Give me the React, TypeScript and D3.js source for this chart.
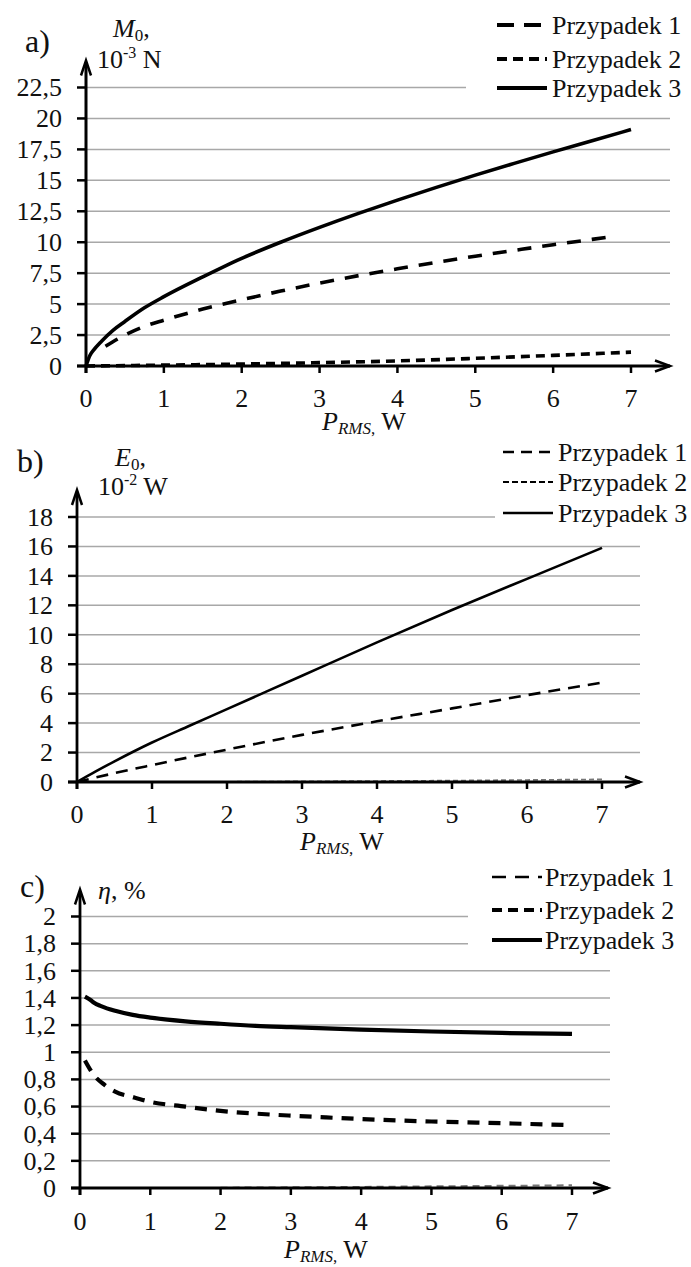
import React from "react";
import * as d3 from "d3";

// ---- Panel a: starting torque M0, 10^-3 N ----
const aCase1P = [0.25, 0.5, 0.75, 1, 1.5, 2, 2.5, 3, 3.5, 4, 4.5, 5, 5.5, 6, 6.5, 6.8];
const aCase1V = [1.6, 2.5, 3.2, 3.7, 4.6, 5.35, 6.05, 6.7, 7.3, 7.85, 8.37, 8.87, 9.34, 9.8, 10.23, 10.5];
const aCase2P = [0, 1, 2, 3, 4, 5, 6, 7];
const aCase2V = [0, 0.07, 0.16, 0.27, 0.41, 0.62, 0.86, 1.12];
const aCase3P = [0, 0.05, 0.1, 0.2, 0.35, 0.5, 0.75, 1, 1.5, 2, 2.5, 3, 3.5, 4, 4.5, 5, 5.5, 6, 6.5, 7];
const aCase3V = [0, 0.85, 1.3, 2.0, 2.9, 3.6, 4.7, 5.6, 7.2, 8.7, 10.0, 11.2, 12.33, 13.4, 14.43, 15.42, 16.37, 17.3, 18.2, 19.1];
const aTicks = [0, 2.5, 5, 7.5, 10, 12.5, 15, 17.5, 20, 22.5];

// ---- Panel b: energy E0, 10^-2 W ----
const bCase1P = [0, 0.5, 1, 2, 3, 4, 5, 6, 7];
const bCase1V = [0, 0.6, 1.15, 2.2, 3.2, 4.12, 5.0, 5.9, 6.75];
const bCase2P = [0, 1, 2, 3, 4, 5, 6, 7];
const bCase2V = [0, 0.005, 0.02, 0.045, 0.07, 0.1, 0.14, 0.18];
const bCase3P = [0, 0.25, 0.5, 1, 1.5, 2, 3, 4, 5, 6, 7];
const bCase3V = [0, 0.72, 1.4, 2.68, 3.82, 4.95, 7.22, 9.48, 11.68, 13.8, 15.9];
const bTicks = [0, 2, 4, 6, 8, 10, 12, 14, 16, 18];

// ---- Panel c: efficiency eta, % ----
const cCase1P = [2, 3, 4, 5, 6, 7];
const cCase1V = [0.002, 0.005, 0.008, 0.012, 0.016, 0.02];
const cCase2P = [0.07, 0.2, 0.35, 0.5, 0.75, 1, 1.5, 2, 2.5, 3, 3.5, 4, 5, 6, 7];
const cCase2V = [0.94, 0.83, 0.76, 0.71, 0.67, 0.635, 0.6, 0.568, 0.548, 0.533, 0.52, 0.508, 0.49, 0.477, 0.463];
const cCase3P = [0.07, 0.15, 0.2, 0.3, 0.5, 0.75, 1, 1.5, 2, 2.5, 3, 4, 5, 6, 7];
const cCase3V = [1.41, 1.385, 1.365, 1.34, 1.305, 1.275, 1.255, 1.228, 1.21, 1.195, 1.185, 1.167, 1.153, 1.142, 1.135];
const cTicks = [0, 0.2, 0.4, 0.6, 0.8, 1, 1.2, 1.4, 1.6, 1.8, 2];

const xTicks = [0, 1, 2, 3, 4, 5, 6, 7];
const legendNames = ["Przypadek 1", "Przypadek 2", "Przypadek 3"];

const FONT = '"Liberation Serif", "DejaVu Serif", serif';
const fmt = (v: number) => String(+v.toFixed(2)).replace(".", ",");

type Series = { p: number[]; v: number[]; width: number; dash?: string; color?: string };
type LegendItem = { width: number; dash?: string; color?: string };

type PanelCfg = {
  label: string;
  labelX: number;
  labelY: number;
  xRange: [number, number];
  yDomain: [number, number];
  yRange: [number, number];
  yTicks: number[];
  xEnd: number;
  gridEnd: number;
  shortGrid: number[];
  shortGridEnd: number;
  axisWidth: number;
  series: Series[];
  legend: LegendItem[];
  legendX: [number, number];
  legendTextX: number;
  legendY: number[];
  yTitle: React.ReactNode;
  xLabelDy: number;
  xTitleX: number;
  xTitleDy: number;
};

function Panel({ cfg }: { cfg: PanelCfg }) {
  const x = d3.scaleLinear().domain([0, 7]).range(cfg.xRange);
  const y = d3.scaleLinear().domain(cfg.yDomain).range(cfg.yRange);
  const x0 = x(0);
  const y0 = y(0);
  const yTip = y(cfg.yDomain[1]) - 27;
  const line = d3
    .line<[number, number]>()
    .x((d) => x(d[0]))
    .y((d) => y(d[1]))
    .curve(d3.curveMonotoneX);

  return (
    <g style={{ fontFamily: FONT }} fill="#111">
      {/* horizontal grid */}
      {cfg.yTicks.slice(1).map((t) => (
        <line
          key={"g" + t}
          x1={x0}
          x2={cfg.shortGrid.includes(t) ? cfg.shortGridEnd : cfg.gridEnd}
          y1={y(t)}
          y2={y(t)}
          stroke="#a8a8a8"
          strokeWidth={1.5}
        />
      ))}

      {/* curves */}
      {cfg.series.map((s, i) => (
        <path
          key={"s" + i}
          d={line(s.p.map((p, j) => [p, s.v[j]] as [number, number])) || ""}
          fill="none"
          stroke={s.color || "#000"}
          strokeWidth={s.width}
          strokeDasharray={s.dash}
        />
      ))}

      {/* axes */}
      <line x1={x0 - 9} x2={cfg.xEnd} y1={y0} y2={y0} stroke="#000" strokeWidth={cfg.axisWidth} />
      <line x1={x0} x2={x0} y1={y0 + 7} y2={yTip + 2} stroke="#000" strokeWidth={cfg.axisWidth} />
      <path
        d={`M${cfg.xEnd - 15},${y0 - 5.5} L${cfg.xEnd},${y0} L${cfg.xEnd - 15},${y0 + 5.5}`}
        fill="none"
        stroke="#000"
        strokeWidth={2.5}
      />
      <path
        d={`M${x0 - 5},${yTip + 15} L${x0},${yTip} L${x0 + 5},${yTip + 15}`}
        fill="none"
        stroke="#000"
        strokeWidth={2.5}
      />

      {/* y ticks */}
      {cfg.yTicks.map((t) => (
        <g key={"yt" + t}>
          <line x1={x0 - 9} x2={x0} y1={y(t)} y2={y(t)} stroke="#000" strokeWidth={2.5} />
          <text x={x0 - 24} y={y(t)} dy="0.34em" textAnchor="end" fontSize={26}>
            {fmt(t)}
          </text>
        </g>
      ))}

      {/* x ticks */}
      {xTicks.map((t) => (
        <g key={"xt" + t}>
          <line x1={x(t)} x2={x(t)} y1={y0} y2={y0 + 7} stroke="#000" strokeWidth={2.5} />
          <text x={x(t)} y={y0 + cfg.xLabelDy} textAnchor="middle" fontSize={26}>
            {t}
          </text>
        </g>
      ))}

      {/* x axis title */}
      <text x={cfg.xTitleX} y={y0 + cfg.xTitleDy} fontSize={26}>
        <tspan fontStyle="italic">P</tspan>
        <tspan fontStyle="italic" fontSize={17} dy={4}>
          RMS
        </tspan>
        <tspan fontSize={17}>,</tspan>
        <tspan dy={-4}> W</tspan>
      </text>

      {/* y axis title */}
      {cfg.yTitle}

      {/* panel letter */}
      <text x={cfg.labelX} y={cfg.labelY} fontSize={32}>
        {cfg.label}
      </text>

      {/* legend */}
      {cfg.legend.map((l, i) => (
        <g key={"l" + i}>
          <line
            x1={cfg.legendX[0]}
            x2={cfg.legendX[1]}
            y1={cfg.legendY[i]}
            y2={cfg.legendY[i]}
            stroke={l.color || "#000"}
            strokeWidth={l.width}
            strokeDasharray={l.dash}
          />
          <text x={cfg.legendTextX} y={cfg.legendY[i] + 9} fontSize={26}>
            {legendNames[i]}
          </text>
        </g>
      ))}
    </g>
  );
}

const panels: PanelCfg[] = [
  {
    label: "a)",
    labelX: 25,
    labelY: 52,
    xRange: [86, 631],
    yDomain: [0, 22.5],
    yRange: [366, 87.5],
    yTicks: aTicks,
    xEnd: 670,
    gridEnd: 670,
    shortGrid: [22.5],
    shortGridEnd: 466,
    axisWidth: 3,
    series: [
      { p: aCase1P, v: aCase1V, width: 3.6, dash: "14 11" },
      { p: aCase2P, v: aCase2V, width: 3.6, dash: "9 6" },
      { p: aCase3P, v: aCase3V, width: 3.6 },
    ],
    legend: [
      { width: 4, dash: "17 10" },
      { width: 4, dash: "10 6" },
      { width: 4 },
    ],
    legendX: [497, 547],
    legendTextX: 552,
    legendY: [25, 59, 88],
    yTitle: (
      <g fontSize={26}>
        <text x={113} y={37}>
          <tspan fontStyle="italic">M</tspan>
          <tspan fontSize={17} dy={4}>0</tspan>
          <tspan dy={-4}>,</tspan>
        </text>
        <text x={97} y={68}>
          10
          <tspan fontSize={16} dy={-10}>-3</tspan>
          <tspan dy={10}> N</tspan>
        </text>
      </g>
    ),
    xLabelDy: 41,
    xTitleX: 322,
    xTitleDy: 64,
  },
  {
    label: "b)",
    labelX: 17,
    labelY: 472,
    xRange: [77, 602],
    yDomain: [0, 18],
    yRange: [782, 517],
    yTicks: bTicks,
    xEnd: 640,
    gridEnd: 640,
    shortGrid: [18],
    shortGridEnd: 495,
    axisWidth: 2.8,
    series: [
      { p: bCase1P, v: bCase1V, width: 2.6, dash: "12 8" },
      { p: bCase2P, v: bCase2V, width: 1.6, dash: "5 3", color: "#777" },
      { p: bCase3P, v: bCase3V, width: 2.6 },
    ],
    legend: [
      { width: 2.5, dash: "11 7" },
      { width: 2, dash: "6 3" },
      { width: 2.5 },
    ],
    legendX: [503, 553],
    legendTextX: 558,
    legendY: [452, 482, 513],
    yTitle: (
      <g fontSize={26}>
        <text x={115} y={466}>
          <tspan fontStyle="italic">E</tspan>
          <tspan fontSize={17} dy={4}>0</tspan>
          <tspan dy={-4}>,</tspan>
        </text>
        <text x={98} y={495}>
          10
          <tspan fontSize={16} dy={-10}>-2</tspan>
          <tspan dy={10}> W</tspan>
        </text>
      </g>
    ),
    xLabelDy: 41,
    xTitleX: 300,
    xTitleDy: 68,
  },
  {
    label: "c)",
    labelX: 20,
    labelY: 897,
    xRange: [80, 572],
    yDomain: [0, 2],
    yRange: [1188, 916.5],
    yTicks: cTicks,
    xEnd: 608,
    gridEnd: 610,
    shortGrid: [2, 1.8],
    shortGridEnd: 468,
    axisWidth: 2.8,
    series: [
      { p: cCase1P, v: cCase1V, width: 2, dash: "7 5", color: "#777" },
      { p: cCase2P, v: cCase2V, width: 4.2, dash: "12 9" },
      { p: cCase3P, v: cCase3V, width: 4.2 },
    ],
    legend: [
      { width: 2.5, dash: "14 9" },
      { width: 4, dash: "10 6" },
      { width: 4 },
    ],
    legendX: [492, 542],
    legendTextX: 545,
    legendY: [877, 910, 940],
    yTitle: (
      <text x={98} y={899} fontSize={26}>
        <tspan fontStyle="italic">η</tspan>
        <tspan>, %</tspan>
      </text>
    ),
    xLabelDy: 42,
    xTitleX: 284,
    xTitleDy: 70,
  },
];

export default function App() {
  return (
    <svg
      width={691}
      height={1267}
      viewBox="0 0 691 1267"
      style={{ position: "absolute", left: 0, top: 0, background: "#fff" }}
    >
      <rect width={691} height={1267} fill="#fff" />
      {panels.map((cfg) => (
        <Panel key={cfg.label} cfg={cfg} />
      ))}
    </svg>
  );
}
